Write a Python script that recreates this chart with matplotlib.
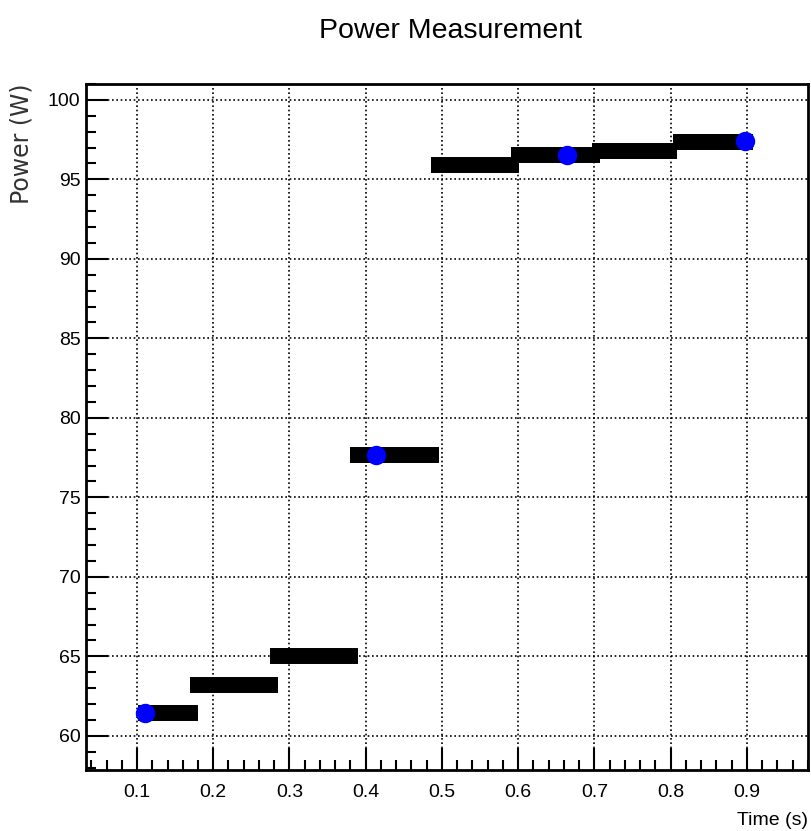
import numpy as np
import matplotlib
matplotlib.use("Agg")
from matplotlib import pyplot as plt
from matplotlib.ticker import MultipleLocator

plt.rcParams['font.family'] = ['Liberation Sans', 'DejaVu Sans']

# step segments: start time, end time, power
seg_start = [0.101, 0.170, 0.275, 0.380, 0.486, 0.591, 0.697, 0.803]
seg_end = [0.180, 0.285, 0.390, 0.496, 0.601, 0.708, 0.808, 0.908]
seg_power = [61.45, 63.2, 65.0, 77.65, 95.9, 96.5, 96.8, 97.35]

# highlighted points
pt_time = [0.110, 0.414, 0.664, 0.898]
pt_power = [61.45, 77.65, 96.5, 97.4]

fig = plt.figure()
fig.set_dpi(100)
fig.set_size_inches(8.11, 8.31)

ax = fig.add_axes([0.106, 0.0734, 0.89, 0.8256])
ax.set_xlim(0.033, 0.98)
ax.set_ylim(57.85, 101.0)

ax.grid(True, which='major', color='black', linestyle=(0, (1, 1.6)), linewidth=1.2)
ax.set_axisbelow(True)

ax.hlines(seg_power, seg_start, seg_end, colors='black', linewidth=11.5, capstyle='butt', zorder=3)
ax.plot(pt_time, pt_power, 'o', color='#0000ff', markersize=14, markeredgewidth=0, zorder=4)

ax.xaxis.set_minor_locator(MultipleLocator(0.02))
ax.yaxis.set_major_locator(MultipleLocator(5))
ax.yaxis.set_minor_locator(MultipleLocator(1))
ax.set_xticks(np.arange(0.1, 0.95, 0.1))
ax.set_xticklabels(['0.1', '0.2', '0.3', '0.4', '0.5', '0.6', '0.7', '0.8', '0.9'])

ax.tick_params(which='both', direction='in', width=1.5, labelsize=14)
ax.tick_params(which='major', length=16)
ax.tick_params(which='minor', length=7.5)
ax.tick_params(axis='x', pad=10)
ax.tick_params(axis='y', pad=4)

for s in ax.spines.values():
    s.set_linewidth(2)

fig.text(0.555, 0.954, 'Power Measurement', ha='center', va='baseline', fontsize=20.5)
fig.text(0.996, 0.007, 'Time (s)', ha='right', va='baseline', fontsize=14)
fig.text(0.026, 0.9, 'Power (W)', rotation=90, ha='center', va='top',
         fontsize=17, family='DejaVu Sans', color='#333333')

fig.savefig('out.png')
